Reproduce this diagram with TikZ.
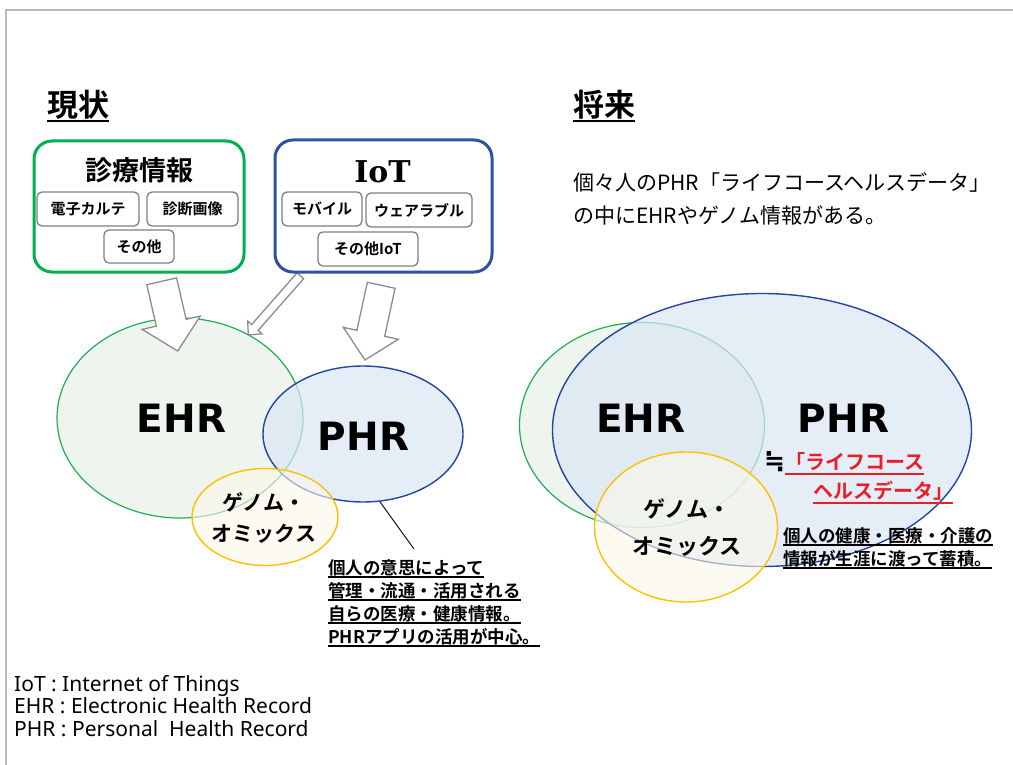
\documentclass[tikz,border=0pt]{standalone}
\usepackage{fontspec}
\setmainfont{Noto Sans CJK JP}[BoldFont={Noto Sans CJK JP Bold}]
\newfontfamily\dvsans{DejaVu Sans}
\newfontfamily\dvserif{DejaVu Serif}
\newfontfamily\notosans{Noto Sans}
\usetikzlibrary{shapes.geometric,calc}
\definecolor{ggreen}{RGB}{0,176,80}
\definecolor{bblue}{RGB}{47,82,160}
\definecolor{vgreen}{RGB}{30,175,80}
\definecolor{vblue}{RGB}{35,70,160}
\definecolor{boxgray}{RGB}{127,127,127}
\definecolor{arrowgray}{RGB}{140,140,140}
\definecolor{ehrfill}{RGB}{238,245,238}
\definecolor{phrfill}{RGB}{218,230,245}
\definecolor{genfill}{RGB}{252,248,234}
\definecolor{genline}{RGB}{255,192,0}
\definecolor{lred}{RGB}{232,30,40}
\definecolor{framegray}{RGB}{185,185,185}
\newcommand{\setfs}[2]{\fontsize{#1}{#2}\selectfont}
\newcommand{\myul}[2][4pt]{\setbox0=\hbox{#2}\leavevmode\rlap{\rule[-#1]{\wd0}{1.6pt}}\box0}
\newcommand{\blockarr}[5]{%
  \coordinate (#2neck) at ($(#2)!#5!(#1)$);
  \draw[blockarrow] ($(#1)!#3!90:(#2)$) -- ($(#2neck)!#3!90:(#2)$) -- ($(#2neck)!#4!90:(#2)$) -- (#2)
    -- ($(#2neck)!#4!-90:(#2)$) -- ($(#2neck)!#3!-90:(#2)$) -- ($(#1)!#3!-90:(#2)$) -- cycle;}
\begin{document}
\begin{tikzpicture}[x=1pt,y=-1pt,
  title/.style={inner sep=0, anchor=base west, font=\bfseries\setfs{31}{31}},
  bigbox/.style={draw, rounded corners=18pt, line width=3pt, inner sep=0},
  smallbox/.style={draw=boxgray, rounded corners=5pt, line width=1.3pt, inner sep=0, fill=white, font=\bfseries\setfs{15}{15}},
  blockarrow/.style={draw=arrowgray, fill=white, line width=1.3pt, line join=miter},
  ehrell/.style={ellipse, draw=vgreen, fill=ehrfill, line width=1.2pt, inner sep=0},
  phrell/.style={ellipse, draw=vblue, fill=phrfill, fill opacity=0.7, line width=1.4pt, inner sep=0},
  genell/.style={ellipse, draw=genline, fill=genfill, fill opacity=0.6, line width=1.4pt, inner sep=0},
  biglabel/.style={inner sep=0, font=\dvsans\bfseries\setfs{39}{39}},
  genlabel/.style={inner sep=0, align=center, font=\bfseries\setfs{21}{31}},
  notetext/.style={inner sep=0, anchor=base west, font=\bfseries\setfs{17.5}{23}},
  redtext/.style={inner sep=0, anchor=base west, font=\bfseries\setfs{20}{20}},
  plaintext/.style={inner sep=0, anchor=base west, font=\setfs{21}{21}},
  legendtext/.style={inner sep=0, anchor=base west, font=\notosans\setfs{21}{21}}
]
\useasboundingbox (0,0) rectangle (1013,765);
\fill[white] (0,0) rectangle (1013,765);
\draw[framegray, line width=1.5pt] (6,765) -- (6,10) -- (1013,10);

% titles
\node[title] (genjo) at (47,117) {\myul[5pt]{現状}};
\node[title] (shorai) at (573,117) {\myul[5pt]{将来}};

% left venn
\node[ehrell, minimum width=246pt, minimum height=200pt] (ehrL) at (180,418) {};
\node[phrell, minimum width=200pt, minimum height=136pt] (phrL) at (363,434) {};
\node[genell, minimum width=146pt, minimum height=97pt] (genL) at (265,517) {};
\node[biglabel] (ehrLt) at (181.5,418) {EHR};
\node[biglabel] (phrLt) at (363.5,436) {PHR};
\node[genlabel] (genLt) at (264,518) {ゲノム・\\オミックス};

% block arrows
\coordinate (a1t) at (161.7,281.3);
\coordinate (a1h) at (177.7,351);
\blockarr{a1t}{a1h}{15.3pt}{29.8pt}{29pt}
\coordinate (a2t) at (300.3,275.8);
\coordinate (a2h) at (248.3,335);
\blockarr{a2t}{a2h}{4.4pt}{9.6pt}{10pt}
\coordinate (a3t) at (381.2,285.3);
\coordinate (a3h) at (365,360);
\blockarr{a3t}{a3h}{14.2pt}{28.1pt}{27.3pt}

% boxes
\node[bigbox, draw=ggreen, minimum width=210pt, minimum height=131pt] (shinryo) at (139,206.5) {};
\node[inner sep=0, font=\bfseries\setfs{27}{27}] (shinryot) at (139,170) {診療情報};
\node[smallbox, minimum width=102pt, minimum height=34pt] (karte) at (88,209) {電子カルテ};
\node[smallbox, minimum width=91pt, minimum height=34pt] (gazo) at (192.5,209) {診断画像};
\node[smallbox, minimum width=70pt, minimum height=33pt] (sonota) at (139,246.5) {その他};

\node[bigbox, draw=bblue, minimum width=217pt, minimum height=132pt] (iot) at (383.5,206) {};
\node[inner sep=0, font=\dvserif\bfseries\setfs{30}{30}] (iott) at (382.5,171.5) {IoT};
\node[smallbox, minimum width=80pt, minimum height=34pt] (mobile) at (322,209) {モバイル};
\node[smallbox, minimum width=106pt, minimum height=34pt] (wear) at (419,210) {ウェアラブル};
\node[smallbox, minimum width=100pt, minimum height=34pt] (sonotaiot) at (368,249) {その他IoT};

% left note
\coordinate (noteEnd) at (414,549);
\draw[black, line width=0.9pt] (phrL.284) -- (noteEnd);
\node[notetext] (n1) at (328,574) {\myul[3.8pt]{個人の意思によって}};
\node[notetext] (n2) at (328,597) {\myul[3.8pt]{管理・流通・活用される}};
\node[notetext] (n3) at (328,620) {\myul[3.8pt]{自らの医療・健康情報。}};
\node[notetext] (n4) at (328,643) {\myul[3.8pt]{PHRアプリの活用が中心。}};

% right text
\node[plaintext] (r1) at (573,190.5) {個々人のPHR「ライフコースヘルスデータ」};
\node[plaintext] (r2) at (573,223) {の中にEHRやゲノム情報がある。};

% right venn
\node[ehrell, minimum width=245pt, minimum height=205pt] (ehrR) at (642,425) {};
\node[phrell, minimum width=419pt, minimum height=273pt] (phrR) at (762,430) {};
\node[genell, minimum width=183pt, minimum height=150pt] (genR) at (686,527) {};
\node[biglabel] (ehrRt) at (641,418.5) {EHR};
\node[biglabel] (phrRt) at (843.5,418.5) {PHR};
\node[genlabel, font=\bfseries\setfs{22}{37}] (genRt) at (687,528) {ゲノム・\\オミックス};

\node[redtext] (lc1) at (764,469.5) {{\dvsans\bfseries\setfs{25}{25}≒}\textcolor{lred}{\myul[5.5pt]{「ライフコース}}};
\node[redtext, text=lred] (lc2) at (813,498.5) {\myul[5.5pt]{ヘルスデータ」}};
\node[notetext] (m1) at (783,542) {\myul[3.8pt]{個人の健康・医療・介護の}};
\node[notetext] (m2) at (783,565) {\myul[3.8pt]{情報が生涯に渡って蓄積。}};

% legend
\node[legendtext] (lg1) at (14,691) {IoT : Internet of Things};
\node[legendtext] (lg2) at (14,713.5) {EHR : Electronic Health Record};
\node[legendtext] (lg3) at (14,736.5) {PHR : Personal\ \ Health Record};
\end{tikzpicture}
\end{document}
